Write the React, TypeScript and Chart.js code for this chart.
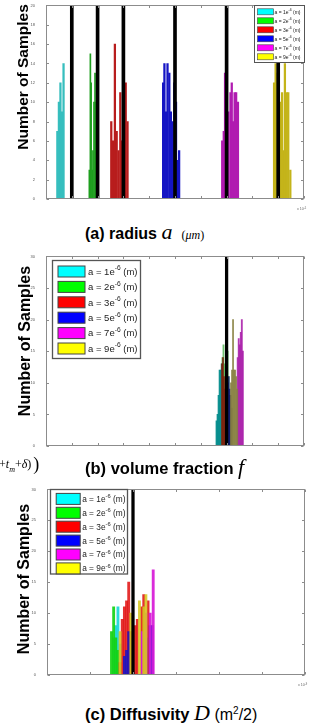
import React, { useEffect, useRef } from "react";
import { Chart, registerables } from "chart.js";

Chart.register(...registerables);

// ---------- shared ----------
const seriesLabels = ["a = 1e-6 (m)", "a = 2e-6 (m)", "a = 3e-6 (m)", "a = 5e-6 (m)", "a = 7e-6 (m)", "a = 9e-6 (m)"];
const swatchColors = ["#00ffff", "#00ff00", "#ff0000", "#0000ff", "#ff00ff", "#ffff00"];

// ---------- (a) radius, x in units of 1e-5 m ----------
const radiusAxisX = [0, 1, 0.1];
const radiusAxisY = [0, 20, 2];
const radiusTrue = [0.1, 0.2, 0.3, 0.5, 0.7, 0.9];
const radiusX1 = [0.044, 0.050, 0.056, 0.062, 0.068];
const radiusY1 = [7, 10, 12, 9, 14];
const radiusX2 = [0.168, 0.172, 0.175, 0.179, 0.182, 0.186, 0.190, 0.193, 0.197];
const radiusY2 = [3, 15, 12, 3, 5, 10, 13, 10, 8];
const radiusX3 = [0.253, 0.260, 0.267, 0.274, 0.281, 0.288, 0.295, 0.302, 0.309, 0.316];
const radiusY3 = [8, 6, 16, 7, 5, 11, 6, 10, 12, 8];
const radiusX5 = [0.454, 0.459, 0.465, 0.471, 0.478, 0.484, 0.490, 0.497, 0.504, 0.510, 0.516];
const radiusY5 = [12, 14, 9, 14, 13, 9, 8, 12, 10, 4, 5];
const radiusX7 = [0.683, 0.689, 0.694, 0.699, 0.707, 0.715, 0.720, 0.725, 0.731, 0.737, 0.744];
const radiusY7 = [6, 7, 13, 5, 9, 11, 12, 8, 11, 11, 10];
const radiusX9 = [0.884, 0.890, 0.896, 0.903, 0.909, 0.915, 0.920, 0.926, 0.933, 0.939, 0.947];
const radiusY9 = [12, 14, 13, 9, 10, 11, 5, 14, 11, 11, 3];

// ---------- (b) volume fraction ----------
const fractionAxisX = [0, 1, 0.1];
const fractionAxisY = [0, 30, 5];
const fractionTrue = [0.7];
const fractionX1 = [0.661, 0.665, 0.669, 0.673, 0.677, 0.681];
const fractionY1 = [4, 5, 8, 12, 12, 13];
const fractionX2 = [0.684, 0.688, 0.692, 0.696, 0.700, 0.704, 0.708, 0.712];
const fractionY2 = [14, 16, 13, 10, 12, 15, 11, 8];
const fractionX3 = [0.682, 0.686, 0.690, 0.694, 0.698, 0.702];
const fractionY3 = [13, 14, 11, 9, 8, 10];
const fractionX5 = [0.700, 0.704, 0.708, 0.712, 0.716, 0.720];
const fractionY5 = [9, 10, 11, 9, 8, 6];
const fractionX7 = [0.743, 0.747, 0.751, 0.755, 0.759, 0.763];
const fractionY7 = [14, 17, 16, 18, 20, 15];
const fractionX9 = [0.717, 0.721, 0.725, 0.729, 0.733, 0.737, 0.741];
const fractionY9 = [10, 12, 20, 12, 12, 11, 9];

// ---------- (c) diffusivity, x in units of 1e-9 ----------
const diffAxisX = [0, 6, 1];
const diffAxisY = [0, 30, 5];
const diffTrue = [2.0];
const diffX1 = [1.55, 1.60, 1.65, 1.70];
const diffY1 = [6, 8, 11, 5];
const diffX2 = [1.50, 1.55, 1.60, 1.65];
const diffY2 = [7, 11, 6, 4];
const diffX3 = [1.70, 1.75, 1.80, 1.85, 1.90, 1.95, 2.05, 2.10, 2.20, 2.25, 2.35];
const diffY3 = [2, 9, 11, 12, 15, 7, 8, 9, 11, 13, 12];
const diffX5 = [1.80, 1.85, 1.90, 2.30, 2.40, 2.45];
const diffY5 = [3, 4, 7, 6, 8, 8];
const diffX7 = [2.20, 2.30, 2.40, 2.47];
const diffY7 = [7, 10, 10, 17];
const diffX9 = [1.70, 1.95, 2.15, 2.25, 2.30];
const diffY9 = [7, 10, 12, 11, 13];

const SANS = '"Liberation Sans", Arial, Helvetica, sans-serif';
const SERIF = '"Liberation Serif", "Times New Roman", serif';

// ---------- plugins ----------
const framePlugin = {
  id: "frame",
  afterDatasetsDraw(chart: any, _args: any, opts: any) {
    const { ctx, chartArea: a, scales } = chart;
    ctx.save();
    ctx.strokeStyle = "#8c8c8c";
    ctx.lineWidth = 1;
    const L = Math.round(a.left) + 0.5, R = Math.round(a.right) - 0.5;
    const T = Math.round(a.top) + 0.5, B = Math.round(a.bottom) - 0.5;
    ctx.strokeRect(L, T, R - L, B - T);
    ctx.beginPath();
    scales.x.ticks.forEach((t: any) => {
      const px = Math.round(scales.x.getPixelForValue(t.value)) + 0.5;
      ctx.moveTo(px, B); ctx.lineTo(px, B - 2.5);
      ctx.moveTo(px, T); ctx.lineTo(px, T + 2.5);
    });
    scales.y.ticks.forEach((t: any) => {
      const py = Math.round(scales.y.getPixelForValue(t.value)) + 0.5;
      ctx.moveTo(L, py); ctx.lineTo(L + 2.5, py);
      ctx.moveTo(R, py); ctx.lineTo(R - 2.5, py);
    });
    ctx.stroke();
    if (opts && opts.exp) {
      ctx.fillStyle = "#666";
      ctx.textBaseline = "alphabetic";
      ctx.font = `3.6px ${SANS}`;
      let tx = a.right - 7;
      const ty = a.bottom + 11;
      ctx.fillText("x 10", tx, ty);
      tx += ctx.measureText("x 10").width;
      ctx.font = `2.6px ${SANS}`;
      ctx.fillText(opts.exp, tx, ty - 1.5);
    }
    ctx.restore();
  },
};

const boxLegendPlugin = {
  id: "boxLegend",
  afterDatasetsDraw(chart: any, _args: any, o: any) {
    if (!o || !o.show) return;
    const { ctx, chartArea: a } = chart;
    const x = Math.round(o.anchor === "right" ? a.right - o.width : a.left + o.dx) + 0.5;
    const y = Math.round(a.top + o.dy) + 0.5;
    ctx.save();
    ctx.fillStyle = "#ffffff";
    ctx.fillRect(x, y, o.width, o.height);
    ctx.strokeStyle = "#555";
    ctx.lineWidth = o.borderWidth;
    ctx.strokeRect(x, y, o.width, o.height);
    const items = chart.data.datasets.filter((d: any) => d.inLegend);
    items.forEach((d: any, i: number) => {
      const cy = y + o.firstRow + i * o.rowGap;
      ctx.fillStyle = d.swatch;
      ctx.fillRect(x + o.swatchX, cy - o.swatchH / 2, o.swatchW, o.swatchH);
      ctx.strokeStyle = "#444";
      ctx.lineWidth = o.swatchBorder;
      ctx.strokeRect(x + o.swatchX, cy - o.swatchH / 2, o.swatchW, o.swatchH);
      const m = /^(.*e)(-\d+)(.*)$/.exec(d.label) || [d.label, d.label, "", ""];
      ctx.fillStyle = "#222";
      ctx.textBaseline = "middle";
      let tx = x + o.textX;
      const ty = cy + o.fontSize * 0.08;
      ctx.font = `${o.fontSize}px ${SANS}`;
      ctx.fillText(m[1], tx, ty);
      tx += ctx.measureText(m[1]).width;
      ctx.font = `${o.fontSize * 0.7}px ${SANS}`;
      ctx.fillText(m[2], tx, ty - o.fontSize * 0.38);
      tx += ctx.measureText(m[2]).width;
      ctx.font = `${o.fontSize}px ${SANS}`;
      ctx.fillText(m[3], tx, ty);
    });
    ctx.restore();
  },
};

// ---------- builders ----------
function series(xs: number[][], ys: number[][], colors: string[], thickness: number, trueVals: number[], yMax: number, trueWidth: number) {
  const sets: any[] = [];
  sets.push({
    label: "true",
    data: trueVals.map((x) => ({ x, y: yMax })),
    backgroundColor: "#000",
    barThickness: trueWidth,
    grouped: false,
    order: 0,
    inLegend: false,
  });
  xs.forEach((xv, i) => {
    sets.push({
      label: seriesLabels[i],
      data: xv.map((x, j) => ({ x, y: ys[i][j] })),
      backgroundColor: colors[i],
      barThickness: thickness,
      grouped: false,
      order: 6 - i,
      inLegend: true,
      swatch: swatchColors[i],
    });
  });
  return sets;
}

function options(ax: number[], ay: number[], yWidth: number, padRight: number, legend: any, exp: string | null) {
  const tickFont = { size: 4, family: SANS };
  return {
    responsive: false,
    animation: false,
    events: [],
    layout: { padding: { left: 0, right: padRight, top: 3, bottom: 0 } },
    scales: {
      x: {
        type: "linear",
        min: ax[0],
        max: ax[1],
        offset: false,
        grid: { display: false, offset: false },
        border: { display: false },
        ticks: { stepSize: ax[2], font: tickFont, color: "#555", padding: 3, maxRotation: 0, autoSkip: false },
        afterFit: (s: any) => { s.height = 12; },
      },
      y: {
        type: "linear",
        min: ay[0],
        max: ay[1],
        grid: { display: false },
        border: { display: false },
        ticks: { stepSize: ay[2], font: tickFont, color: "#555", padding: 3, autoSkip: false },
        afterFit: (s: any) => { s.width = yWidth; },
      },
    },
    plugins: {
      legend: { display: false },
      tooltip: { enabled: false },
      frame: { exp },
      boxLegend: legend,
    },
  };
}

const colorsA = ["#36bebe", "#1f9f1f", "#b81d1d", "#1515c4", "#b01bb0", "#c4b41a"];
const colorsB = ["rgba(0,140,140,0.92)", "rgba(70,175,70,0.78)", "rgba(130,25,10,0.78)", "rgba(10,10,110,0.78)", "rgba(170,30,170,0.88)", "rgba(135,128,65,0.85)"];
const colorsC = ["rgba(25,215,215,0.92)", "rgba(20,210,20,0.92)", "rgba(225,15,15,0.86)", "rgba(20,20,200,0.86)", "rgba(215,25,215,0.92)", "rgba(215,200,35,0.88)"];

export default function App() {
  const refA = useRef<HTMLCanvasElement>(null);
  const refB = useRef<HTMLCanvasElement>(null);
  const refC = useRef<HTMLCanvasElement>(null);

  useEffect(() => {
    const charts: Chart[] = [];
    charts.push(new Chart(refA.current as HTMLCanvasElement, {
      type: "bar",
      data: {
        datasets: series(
          [radiusX1, radiusX2, radiusX3, radiusX5, radiusX7, radiusX9],
          [radiusY1, radiusY2, radiusY3, radiusY5, radiusY7, radiusY9],
          colorsA, 1.6, radiusTrue, radiusAxisY[1], 3
        ).map((d: any, i: number) => (i === 2 ? { ...d, barThickness: 1.0 } : d)),
      },
      options: options(radiusAxisX, radiusAxisY, 46, 20, {
        show: true, anchor: "right", dx: 0, dy: 0, width: 50, height: 57,
        firstRow: 6.3, rowGap: 9, swatchX: 3, swatchW: 16, swatchH: 6, swatchBorder: 0.6,
        textX: 20, fontSize: 5, borderWidth: 1,
      }, "-5") as any,
      plugins: [framePlugin, boxLegendPlugin],
    }));
    charts.push(new Chart(refB.current as HTMLCanvasElement, {
      type: "bar",
      data: {
        datasets: series(
          [fractionX1, fractionX2, fractionX3, fractionX5, fractionX7, fractionX9],
          [fractionY1, fractionY2, fractionY3, fractionY5, fractionY7, fractionY9],
          colorsB, 1.2, fractionTrue, fractionAxisY[1], 2.6
        ),
      },
      options: options(fractionAxisX, fractionAxisY, 46, 20, {
        show: true, anchor: "left", dx: 6, dy: 4, width: 88, height: 98,
        firstRow: 11, rowGap: 15.4, swatchX: 5.5, swatchW: 27, swatchH: 11, swatchBorder: 1,
        textX: 35.5, fontSize: 9.5, borderWidth: 1.3,
      }, null) as any,
      plugins: [framePlugin, boxLegendPlugin],
    }));
    charts.push(new Chart(refC.current as HTMLCanvasElement, {
      type: "bar",
      data: {
        datasets: series(
          [diffX1, diffX2, diffX3, diffX5, diffX7, diffX9],
          [diffY1, diffY2, diffY3, diffY5, diffY7, diffY9],
          colorsC, 2.2, diffTrue, diffAxisY[1], 2.6
        ),
      },
      options: options(diffAxisX, diffAxisY, 47, 19, {
        show: true, anchor: "left", dx: 3, dy: 0, width: 77, height: 84.5,
        firstRow: 9.4, rowGap: 13.9, swatchX: 5.7, swatchW: 24, swatchH: 11, swatchBorder: 1,
        textX: 31.7, fontSize: 8.3, borderWidth: 1.3,
      }, "-9") as any,
      plugins: [framePlugin, boxLegendPlugin],
    }));
    return () => charts.forEach((c) => c.destroy());
  }, []);

  const ylab = (cx: number, cy: number, size: number): React.CSSProperties => ({
    position: "absolute",
    left: cx,
    top: cy,
    transform: "translate(-50%, -50%) rotate(-90deg)",
    fontFamily: SANS,
    fontWeight: "bold",
    fontSize: size,
    whiteSpace: "nowrap",
    lineHeight: 1,
    color: "#000",
  });

  const title = (top: number): React.CSSProperties => ({
    position: "absolute",
    left: 85,
    top,
    whiteSpace: "nowrap",
    lineHeight: "20px",
    color: "#000",
  });

  return (
    <div style={{ position: "absolute", left: 0, top: 0, width: 324, height: 727, background: "#fff", overflow: "hidden" }}>
      <canvas ref={refA} width={324} height={211} style={{ position: "absolute", left: 0, top: 0, display: "block" }} />
      <canvas ref={refB} width={324} height={207} style={{ position: "absolute", left: 0, top: 251, display: "block" }} />
      <canvas ref={refC} width={324} height={203} style={{ position: "absolute", left: 0, top: 484, display: "block" }} />

      <div style={ylab(23, 77, 15.5)}>Number of Samples</div>
      <div style={ylab(25, 341, 16)}>Number of Samples</div>
      <div style={ylab(23.5, 579, 16)}>Number of Samples</div>

      <div style={title(222)}>
        <span style={{ fontFamily: SANS, fontWeight: "bold", fontSize: 16 }}>(a) radius </span>
        <span style={{ fontFamily: SERIF, fontStyle: "italic", fontSize: 22 }}>a</span>
        <span style={{ fontFamily: SERIF, fontSize: 12, marginLeft: 9 }}>(<i>μm</i>)</span>
      </div>

      <div style={{ position: "absolute", left: -1, top: 452, whiteSpace: "nowrap", lineHeight: "20px", fontFamily: SERIF, color: "#000" }}>
        <span style={{ fontSize: 12 }}>+<i>t</i></span>
        <sub style={{ fontSize: 8, fontStyle: "italic" }}>m</sub>
        <span style={{ fontSize: 12 }}>+<i>δ</i>)</span>
        <span style={{ fontSize: 18, marginLeft: 2, position: "relative", top: 2 }}>)</span>
      </div>

      <div style={title(457)}>
        <span style={{ fontFamily: SANS, fontWeight: "bold", fontSize: 16.5 }}>(b) volume fraction </span>
        <span style={{ fontFamily: SERIF, fontStyle: "italic", fontSize: 22 }}>f</span>
      </div>

      <div style={title(703)}>
        <span style={{ fontFamily: SANS, fontWeight: "bold", fontSize: 16.5 }}>(c) Diffusivity </span>
        <span style={{ fontFamily: SERIF, fontStyle: "italic", fontSize: 22 }}>D</span>
        <span style={{ fontFamily: SANS, fontSize: 16 }}> (m<sup style={{ fontSize: 10, lineHeight: 0 }}>2</sup>/2)</span>
      </div>
    </div>
  );
}
